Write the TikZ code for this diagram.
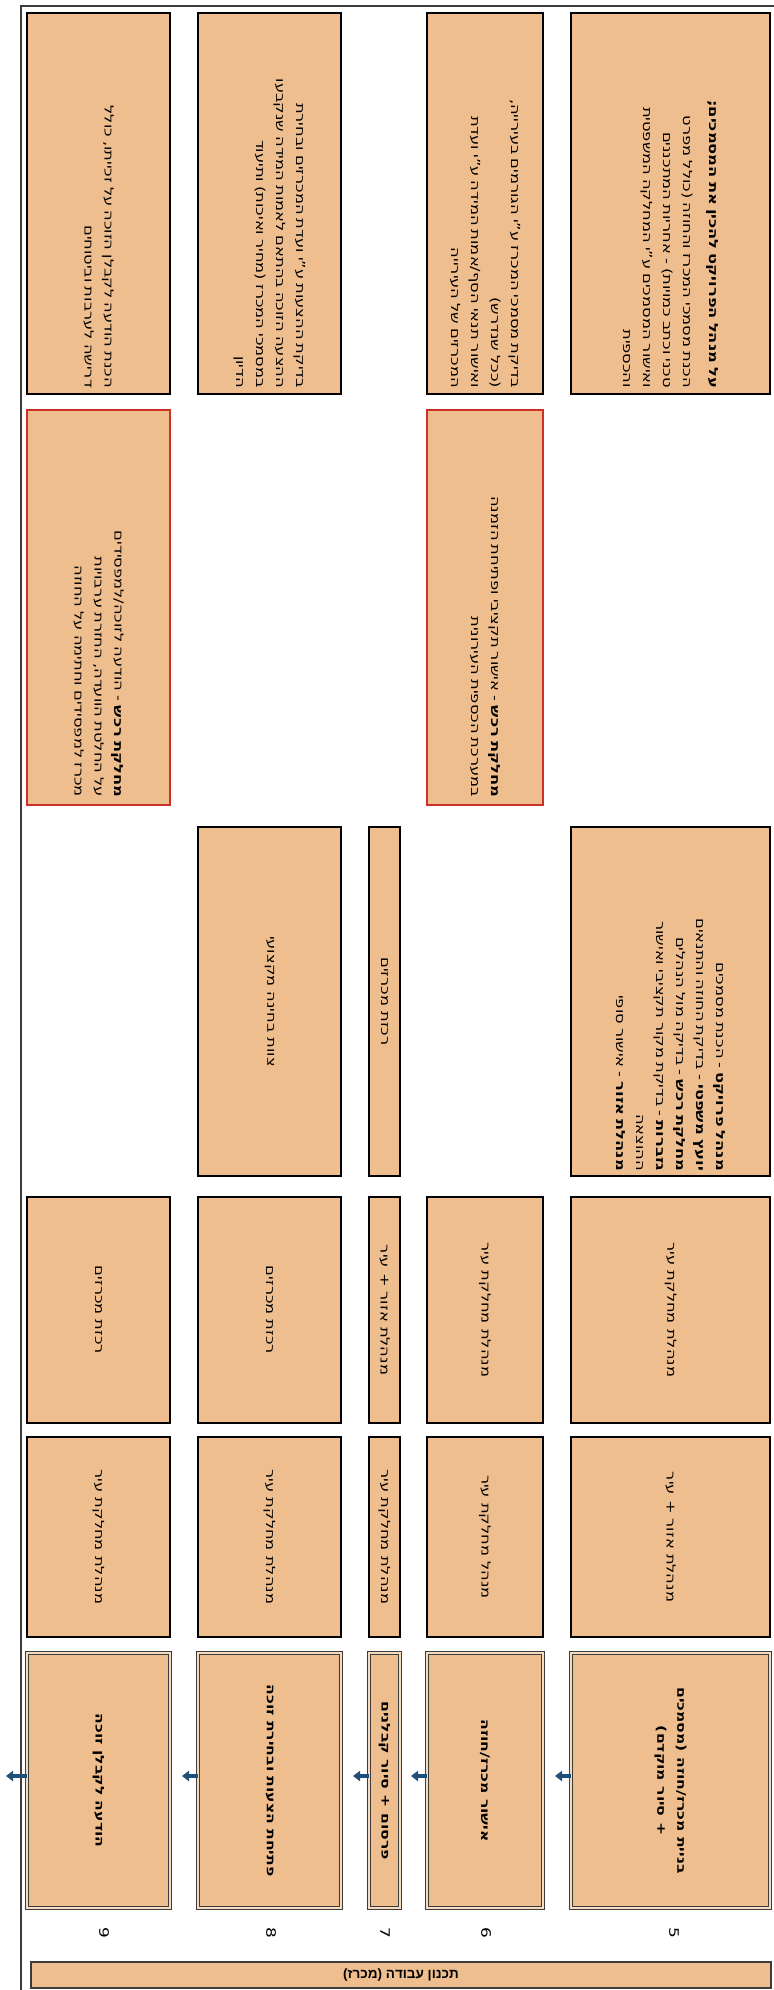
\documentclass[tikz,border=0pt]{standalone}
\usepackage{fontspec}
\setmainfont{DejaVu Sans}[FakeStretch=1.3]
\newfontfamily\titlefont{Liberation Sans}
\TeXXeTstate=1
\usetikzlibrary{arrows.meta}
\definecolor{tnFill}{RGB}{239,190,142}
\definecolor{tnRed}{RGB}{204,48,40}
\definecolor{tnBlue}{RGB}{31,78,121}
\definecolor{tnGray}{RGB}{60,60,60}
\newcommand{\heb}[1]{\beginR #1\endR}

\begin{document}
\begin{tikzpicture}[x=1pt, y=-1pt,
    every node/.style={font=\fontsize{12.5}{20}\selectfont},
    cell/.style={draw=black, line width=1.4pt, fill=tnFill, rotate=-90,
                 inner sep=4pt, align=center},
    desccell/.style={cell, align=right},
    redcell/.style={cell, draw=tnRed, line width=2.6pt, align=right},
    stepcell/.style={cell, draw=tnGray, line width=0.9pt, double=tnFill!55!white,
                     double distance=1.6pt, font=\fontsize{12}{20}\selectfont\bfseries},
    stepno/.style={rotate=-90, font=\fontsize{13}{14}\selectfont},
    flow/.style={-{Triangle[length=7pt, width=10pt]}, line width=3.5pt, color=tnBlue}]
  \useasboundingbox (0,0) rectangle (774,1990);
  \draw[line width=1.4pt, color=tnGray] (21,1990) -- (21,6) -- (774,6);

  % description row
  \node[desccell, minimum width=381, minimum height=143, text width=369] (desc9) at (98.5,203.5)
    {\heb{הכנת הודעה לקבלן הזוכה על זכייתו, כולל}\\\heb{דרישה לערבות וביטוחים}};
  \node[desccell, minimum width=381, minimum height=143, text width=369] (desc8) at (269.5,203.5)
    {\heb{בדיקת ההצעות ע"י ועדת המכרזים ובחירת}\\\heb{ההצעה הזוכה בהתאם לאמות המידה שנקבעו}\\\heb{במסמכי המכרז (מחיר ואיכות) ותיעוד}\\\heb{הדיון}};
  \node[desccell, minimum width=381, minimum height=116, text width=369] (desc6) at (485,203.5)
    {\heb{בדיקת מסמכי המכרז ע"י הגורמים בעירייה,}\\\heb{(ככל שנדרש)}\\\heb{ואישור תנאי הסף/אמות המידה ע"י ועדת}\\\heb{המכרזים של העירייה}};
  \node[desccell, minimum width=381, minimum height=199, text width=369] (desc5) at (670.5,203.5)
    {\heb{{\bfseries על מנהל הפרויקט להכין את המסמכים;}}\\[6pt]\heb{הכנת מסמכי המכרז והחוזה (כולל מפרט}\\\heb{טכני וכתב כמויות) - אחריות המתכננים}\\\heb{ואישור המסמכים ע"י המחלקה המשפטית}\\\heb{והכספית}};

  % red notes
  \node[redcell, minimum width=395, minimum height=143, text width=379] (note9) at (98.5,607.5)
    {\heb{{\bfseries מחלקת רכש} - הודעה לזוכה/למפסידים}\\\heb{על החלטת הוועדה, החזרת ערבויות}\\\heb{מכרז למפסידים וחתימה על החוזה}};
  \node[redcell, minimum width=395, minimum height=116, text width=379] (note6) at (485,607.5)
    {\heb{{\bfseries מחלקת רכש} - אישור תקציבי ופתיחת הזמנה}\\\heb{במערכת הכספית העירונית}};

  % team row
  \node[cell, minimum width=349, minimum height=143] (team8) at (269.5,1001.5)
    {\heb{צוות בחינה מקצועי}};
  \node[cell, minimum width=349, minimum height=31, inner sep=1pt] (team7) at (384.5,1001.5)
    {\heb{רכזת מכרזים}};
  \node[desccell, minimum width=349, minimum height=199, text width=339] (team5) at (670.5,1001.5)
    {\heb{{\bfseries מנהל פרויקט} - הכנת מסמכים}\\\heb{{\bfseries יועץ משפטי} - בדיקת החוזה והתנאים}\\\heb{{\bfseries מחלקת רכש} - בדיקה מול הנהלים}\\\heb{{\bfseries גזברות} - בדיקת מקור תקציבי ואישור}\\\heb{ההוצאה}\\\heb{{\bfseries מנהלת אזור} - אישור סופי}};

  % responsible row
  \node[cell, minimum width=226, minimum height=143] (resp9) at (98.5,1310) {\heb{רכזת מכרזים}};
  \node[cell, minimum width=226, minimum height=143] (resp8) at (269.5,1310) {\heb{רכזת מכרזים}};
  \node[cell, minimum width=226, minimum height=31, inner sep=1pt] (resp7) at (384.5,1310) {\heb{מנהלת אזור + עיר}};
  \node[cell, minimum width=226, minimum height=116] (resp6) at (485,1310) {\heb{מנהלת מחלקת עיר}};
  \node[cell, minimum width=226, minimum height=199] (resp5) at (670.5,1310) {\heb{מנהלת מחלקת עיר}};

  % approver row
  \node[cell, minimum width=200, minimum height=143] (appr9) at (98.5,1537) {\heb{מנהלת מחלקת עיר}};
  \node[cell, minimum width=200, minimum height=143] (appr8) at (269.5,1537) {\heb{מנהלת מחלקת עיר}};
  \node[cell, minimum width=200, minimum height=31, inner sep=1pt] (appr7) at (384.5,1537) {\heb{מנהלת מחלקת עיר}};
  \node[cell, minimum width=200, minimum height=116] (appr6) at (485,1537) {\heb{מנהל מחלקת עיר}};
  \node[cell, minimum width=200, minimum height=199] (appr5) at (670.5,1537) {\heb{מנהלת אזור + עיר}};

  % steps
  \node[stepcell, minimum width=255, minimum height=143] (step9) at (98.5,1780.5) {\heb{הודעה לקבלן זוכה}};
  \node[stepcell, minimum width=255, minimum height=143] (step8) at (269.5,1780.5) {\heb{פתיחת הצעות ובחירת זוכה}};
  \node[stepcell, minimum width=255, minimum height=31, inner sep=1pt] (step7) at (384.5,1780.5) {\heb{פרסום + סיור קבלנים}};
  \node[stepcell, minimum width=255, minimum height=116] (step6) at (485,1780.5) {\heb{אישור מכרז/חוזה}};
  \node[stepcell, minimum width=255, minimum height=199] (step5) at (670.5,1780.5)
    {\heb{בניית מכרז/חוזה (מסמכים}\\\heb{+ סיור מוקדם)}};

  \node[stepno] (no9) at (104,1933) {9};
  \node[stepno] (no8) at (271,1933) {8};
  \node[stepno] (no7) at (385,1933) {7};
  \node[stepno] (no6) at (486,1933) {6};
  \node[stepno] (no5) at (674,1933) {5};

  \coordinate (tip9) at (6,1776);
  \coordinate (tip8) at (182,1776);
  \coordinate (tip7) at (353,1776);
  \coordinate (tip6) at (411,1776);
  \coordinate (tip5) at (555,1776);
  \draw[flow] (step9.south |- tip9) -- (tip9);
  \draw[flow] (step8.south |- tip8) -- (tip8);
  \draw[flow] (step7.south |- tip7) -- (tip7);
  \draw[flow] (step6.south |- tip6) -- (tip6);
  \draw[flow] (step5.south |- tip5) -- (tip5);

  \node[draw=tnGray, line width=1.2pt, fill=tnFill, minimum width=740, minimum height=26,
        inner sep=0pt, font=\titlefont\fontsize{13.5}{15}\selectfont\bfseries] (title) at (401,1975)
    {\heb{תכנון עבודה (מכרז)}};
\end{tikzpicture}
\end{document}
